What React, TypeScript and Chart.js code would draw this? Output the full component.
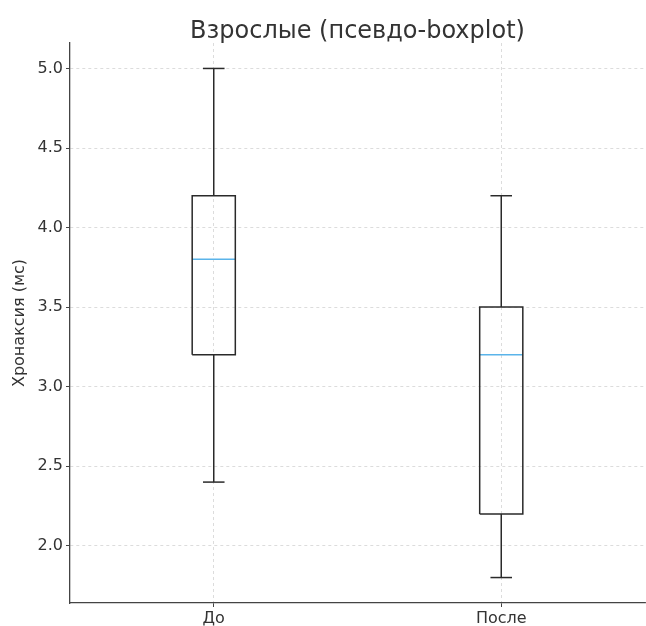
import React, { useEffect, useRef } from "react";
import { Chart, registerables } from "chart.js";

Chart.register(...registerables);

const categories = ["До", "После"];
const positions = [1, 2];
const mins = [2.4, 1.8];
const q1s = [3.2, 2.2];
const medians = [3.8, 3.2];
const q3s = [4.2, 3.5];
const maxs = [5.0, 4.2];
const yTicks = [2.0, 2.5, 3.0, 3.5, 4.0, 4.5, 5.0];
const titleText = "Взрослые (псевдо-boxplot)";

const BOX_HALF = 0.075;
const CAP_HALF = 0.0375;
const LINE = "#2a2a2a";
const MEDIAN = "#5ab4ea";
const FONT = "'DejaVu Sans', sans-serif";

function seg(points: { x: number; y: number }[], color: string) {
  return {
    type: "scatter" as const,
    data: points,
    showLine: true,
    borderColor: color,
    backgroundColor: color,
    borderWidth: 1.5,
    pointRadius: 0,
    pointHoverRadius: 0,
    tension: 0,
  };
}

const axesTitle = {
  id: "axesTitle",
  afterDraw(chart: any) {
    const { ctx, chartArea } = chart;
    ctx.save();
    ctx.font = `24px ${FONT}`;
    ctx.fillStyle = "#333333";
    ctx.textAlign = "center";
    ctx.textBaseline = "alphabetic";
    ctx.fillText(titleText, (chartArea.left + chartArea.right) / 2, 37.5);
    ctx.restore();
  },
};

export default function App() {
  const ref = useRef<HTMLCanvasElement | null>(null);
  useEffect(() => {
    document.body.style.margin = "0";
    const datasets: any[] = [];
    positions.forEach((p, i) => {
      datasets.push(
        seg(
          [
            { x: p - BOX_HALF, y: q1s[i] },
            { x: p + BOX_HALF, y: q1s[i] },
            { x: p + BOX_HALF, y: q3s[i] },
            { x: p - BOX_HALF, y: q3s[i] },
            { x: p - BOX_HALF, y: q1s[i] },
          ],
          LINE
        )
      );
      datasets.push(seg([{ x: p, y: mins[i] }, { x: p, y: q1s[i] }], LINE));
      datasets.push(seg([{ x: p, y: q3s[i] }, { x: p, y: maxs[i] }], LINE));
      datasets.push(seg([{ x: p - CAP_HALF, y: mins[i] }, { x: p + CAP_HALF, y: mins[i] }], LINE));
      datasets.push(seg([{ x: p - CAP_HALF, y: maxs[i] }, { x: p + CAP_HALF, y: maxs[i] }], LINE));
      datasets.push(seg([{ x: p - BOX_HALF, y: medians[i] }, { x: p + BOX_HALF, y: medians[i] }], MEDIAN));
    });

    const chart = new Chart(ref.current!, {
      type: "scatter",
      data: { datasets },
      plugins: [axesTitle],
      options: {
        animation: false,
        responsive: true,
        maintainAspectRatio: false,
        layout: { padding: { left: 0, right: 1, top: 43, bottom: 0 } },
        plugins: {
          legend: { display: false },
          tooltip: { enabled: false },
          title: { display: false },
        },
        scales: {
          x: {
            type: "linear",
            min: 0.5,
            max: 2.5,
            afterBuildTicks: (scale: any) => {
              scale.ticks = positions.map((v) => ({ value: v }));
            },
            afterFit: (scale: any) => {
              scale.height = 23;
            },
            ticks: {
              color: "#333333",
              font: { family: FONT, size: 16 },
              padding: 2,
              maxRotation: 0,
              autoSkip: false,
              callback: (v: any) => {
                const idx = positions.indexOf(Number(v));
                return idx >= 0 ? categories[idx] : "";
              },
            },
            grid: {
              color: "#d3d3d3",
              lineWidth: 0.8,
              tickColor: "#444444",
              tickLength: 4,
              tickWidth: 1,
            },
            border: { display: true, color: "#444444", width: 1.3, dash: [3, 3] },
          },
          y: {
            type: "linear",
            min: 1.64,
            max: 5.16,
            afterBuildTicks: (scale: any) => {
              scale.ticks = yTicks.map((v) => ({ value: v }));
            },
            afterFit: (scale: any) => {
              scale.width = 70;
            },
            ticks: {
              color: "#333333",
              font: { family: FONT, size: 16 },
              padding: 3,
              callback: (v: any) => Number(v).toFixed(1),
            },
            title: {
              display: true,
              text: "Хронаксия (мс)",
              color: "#333333",
              font: { family: FONT, size: 16 },
              padding: { top: 10, bottom: 0 },
            },
            grid: {
              color: "#d3d3d3",
              lineWidth: 0.8,
              tickColor: "#444444",
              tickLength: 4,
              tickWidth: 1,
            },
            border: { display: true, color: "#444444", width: 1.3, dash: [3, 3] },
          },
        },
      },
    });
    return () => chart.destroy();
  }, []);

  return (
    <div style={{ width: 646, height: 626, position: "relative" }}>
      <canvas ref={ref} />
    </div>
  );
}
